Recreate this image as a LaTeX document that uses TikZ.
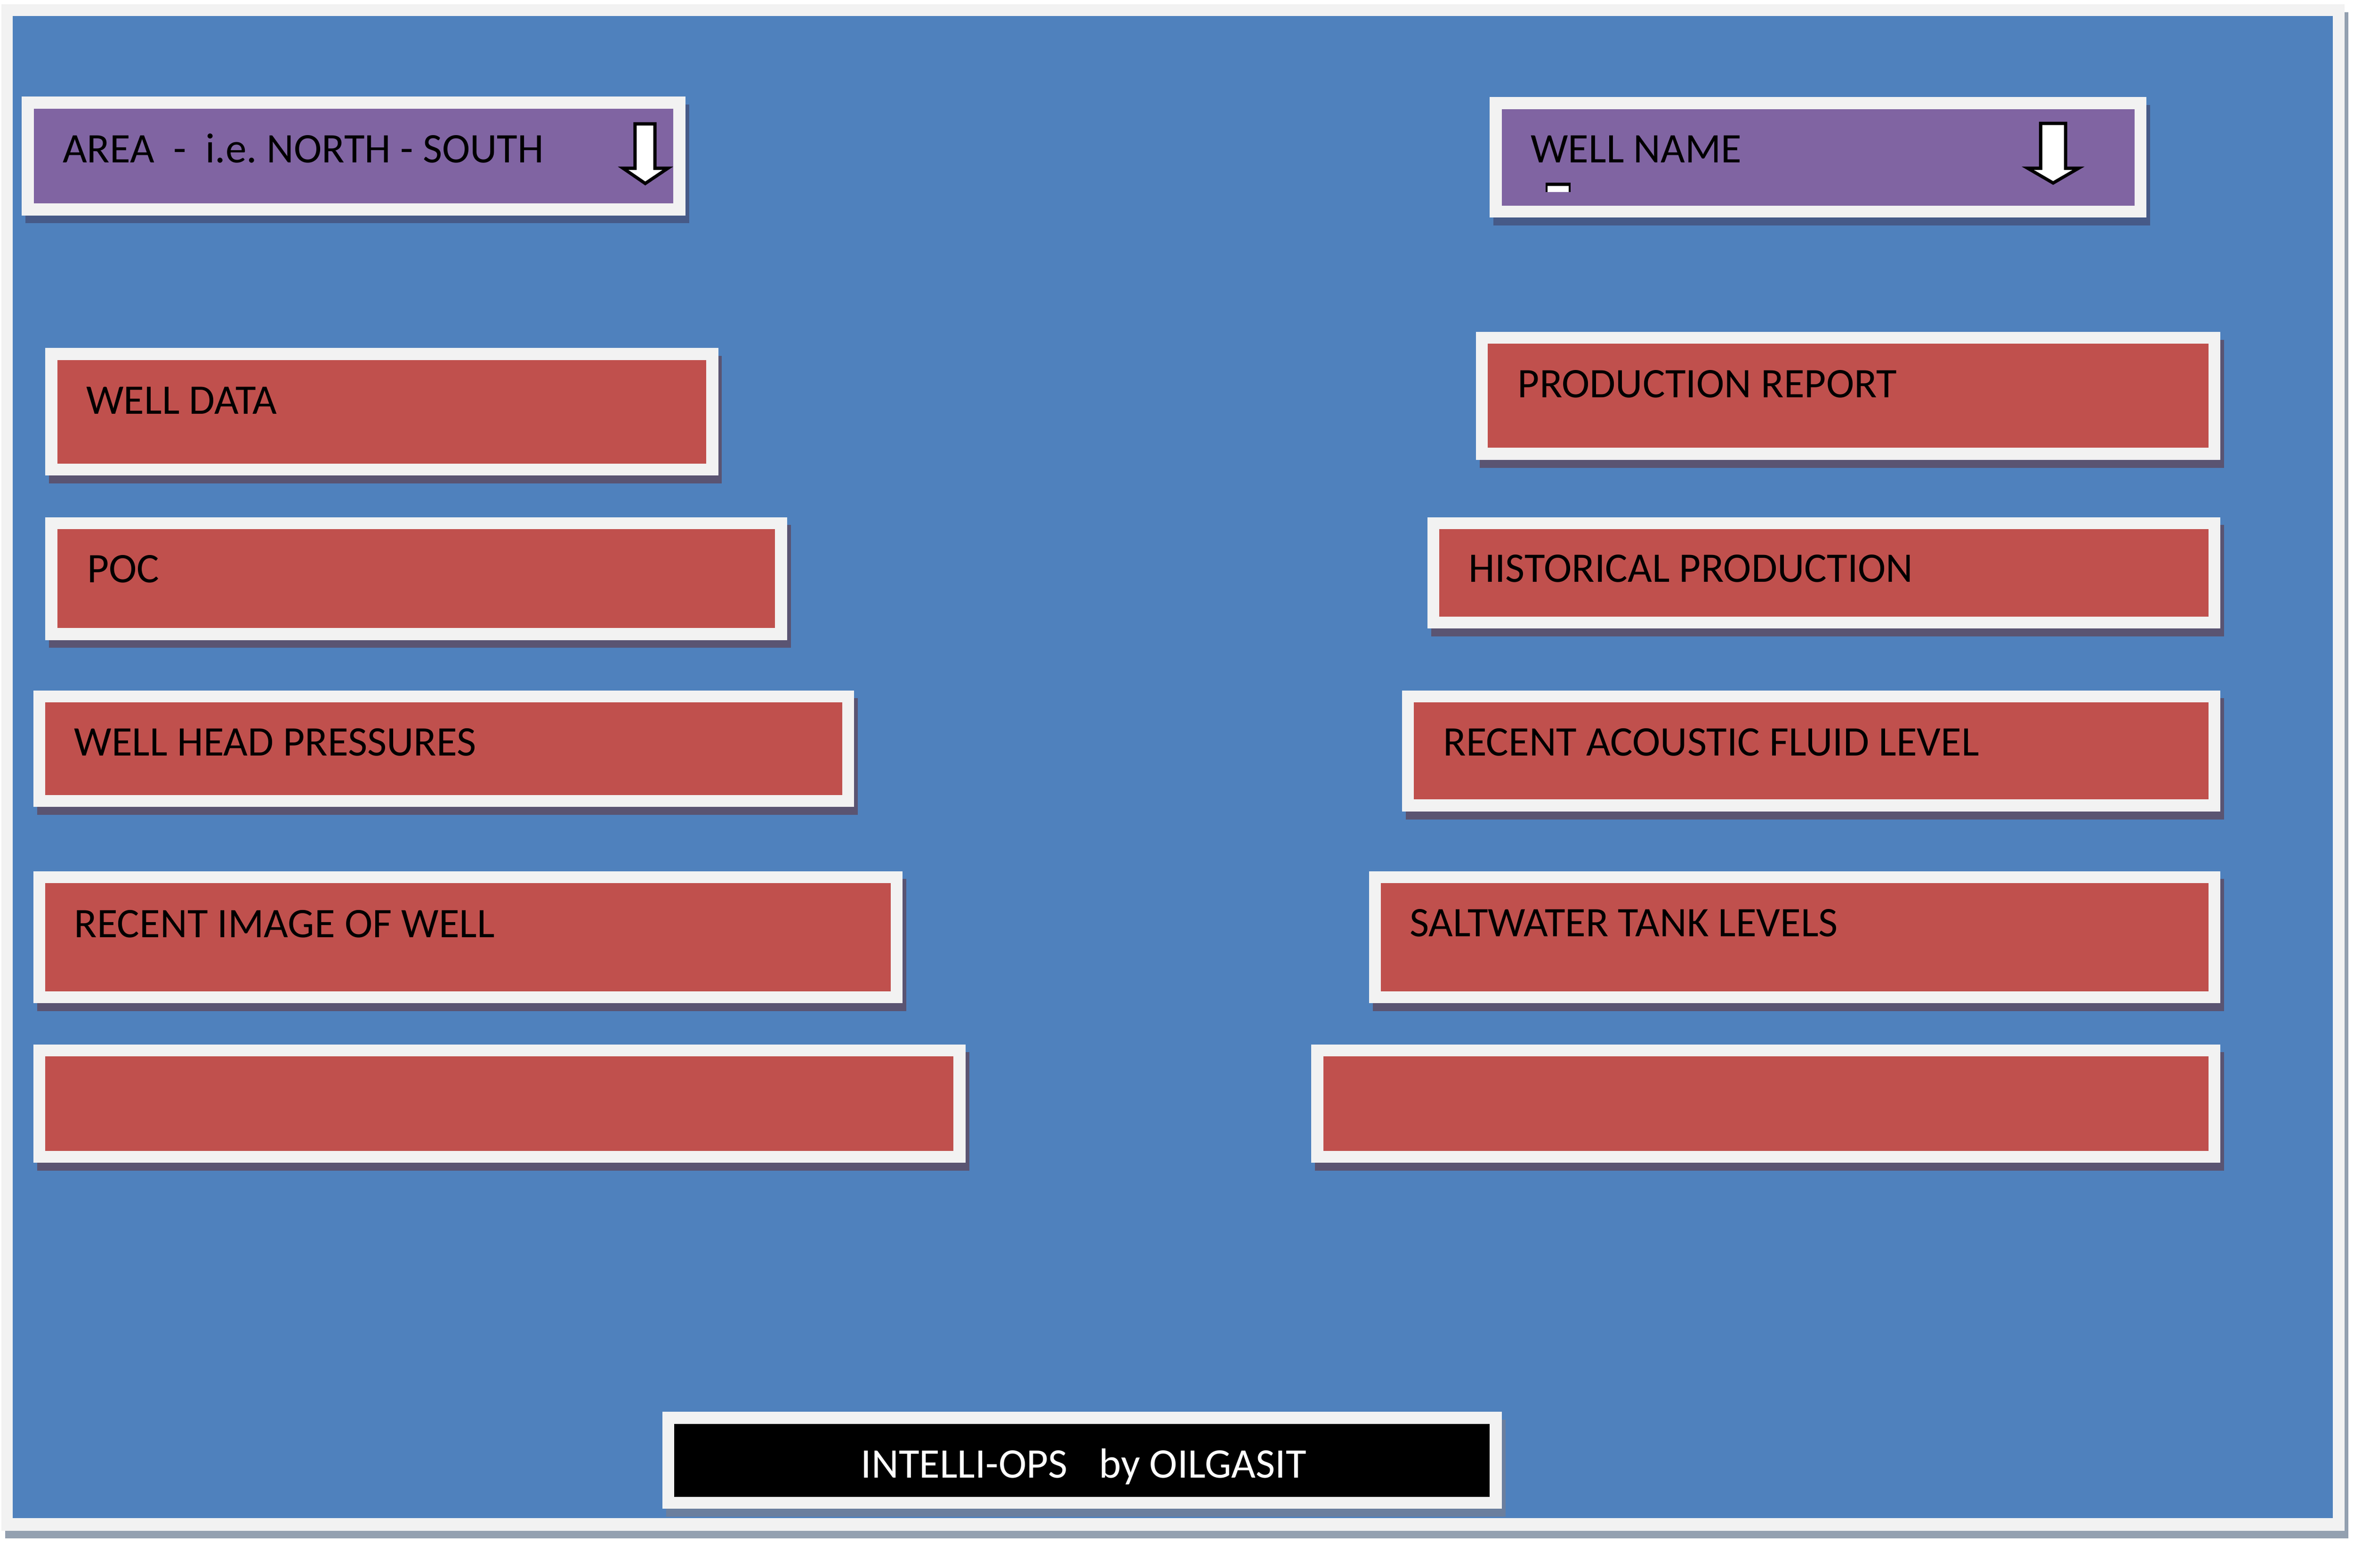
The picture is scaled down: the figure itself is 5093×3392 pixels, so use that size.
\documentclass[tikz,border=0pt]{standalone}
\usepackage{fontspec}
\setmainfont{Carlito}
\usetikzlibrary{fit}
\definecolor{bgblue}{HTML}{4F81BD}
\definecolor{boxpurple}{HTML}{8064A2}
\definecolor{boxred}{HTML}{C0504D}
\definecolor{framelight}{HTML}{F2F2F2}
\definecolor{shadowred}{HTML}{5A5472}
\definecolor{shadowblue}{HTML}{465A88}
\definecolor{shadowblack}{HTML}{6B7F9E}
\definecolor{shadowframe}{HTML}{93A0B0}
\newcommand\panelbox[7]{%
  \fill[#7, shift={(8,17)}] (#2,#3) rectangle (#4,#5);
  \fill[framelight] (#2,#3) rectangle (#4,#5);
  \path (#2,#3) ++(26,26) coordinate (#1-a);
  \path (#4,#5) ++(-26,-26) coordinate (#1-b);
  \node[fit=(#1-a)(#1-b), inner sep=0pt, fill=#6] (#1) {};
}
\tikzset{
  lbl/.style={font=\fontsize{25.9pt}{31pt}\selectfont, inner sep=0pt, anchor=base west, text=black},
  downarrow/.style={fill=white, draw=black, line width=0.07cm, line join=miter}
}
\frenchspacing
\begin{document}
\begin{tikzpicture}[x=0.01cm, y=-0.01cm]
\useasboundingbox (0,0) rectangle (5093,3392);
\fill[white] (0,0) rectangle (5093,3392);
% outer frame
\fill[shadowframe, shift={(8,17)}] (3,9) rectangle (5073,3312);
\fill[framelight] (3,9) rectangle (5073,3312);
\fill[bgblue] (28,35) rectangle (5047,3285);
% selector boxes
\panelbox{area}{47}{209}{1483}{466}{boxpurple}{shadowblue}
\panelbox{wellname}{3223}{210}{4644}{471}{boxpurple}{shadowblue}
% left column
\panelbox{welldata}{98}{753}{1554}{1029}{boxred}{shadowred}
\panelbox{poc}{98}{1119}{1703}{1385}{boxred}{shadowred}
\panelbox{whp}{72}{1494}{1848}{1746}{boxred}{shadowred}
\panelbox{riow}{72}{1885}{1953}{2171}{boxred}{shadowred}
\panelbox{blankl}{72}{2260}{2089}{2516}{boxred}{shadowred}
% right column
\panelbox{prodrep}{3193}{718}{4804}{995}{boxred}{shadowred}
\panelbox{histprod}{3088}{1119}{4804}{1360}{boxred}{shadowred}
\panelbox{rafl}{3033}{1494}{4804}{1756}{boxred}{shadowred}
\panelbox{swt}{2962}{1885}{4804}{2171}{boxred}{shadowred}
\panelbox{blankr}{2837}{2260}{4804}{2516}{boxred}{shadowred}
% footer
\panelbox{footer}{1433}{3055}{3249}{3265}{black}{shadowblack}
% texts
\node[lbl] (t-area) at (135,352) {AREA~~-~~i.e. NORTH - SOUTH};
\node[lbl] (t-wellname) at (3311,352) {WELL NAME};
\node[lbl] (t-welldata) at (186,896) {WELL DATA};
\node[lbl] (t-poc) at (188,1260) {POC};
\node[lbl] (t-whp) at (160,1635) {WELL HEAD PRESSURES};
\node[lbl] (t-riow) at (160,2028) {RECENT IMAGE OF WELL};
\node[lbl] (t-prodrep) at (3283,860) {PRODUCTION REPORT};
\node[lbl] (t-histprod) at (3177,1259) {HISTORICAL PRODUCTION};
\node[lbl] (t-rafl) at (3122,1635) {RECENT ACOUSTIC FLUID LEVEL};
\node[lbl] (t-swt) at (3049,2026) {SALTWATER TANK LEVELS};
\node[lbl, text=white] (t-footer) at (1862,3198) {INTELLI-OPS\hspace{0.75em}by OILGASIT};
% dropdown arrows
\draw[downarrow] (1374,268) -- (1417,268) -- (1417,364) -- (1445,364) -- (1396,397) -- (1348,364) -- (1374,364) -- cycle;
\draw[downarrow] (4415,267) -- (4469,267) -- (4469,364) -- (4497,364) -- (4442,396) -- (4387,364) -- (4415,364) -- cycle;
% small marker under WELL NAME
\fill[white] (3346,399) rectangle (3396,416);
\draw[black, line width=0.07cm] (3344,398.5) -- (3398,398.5);
\draw[black, line width=0.04cm] (3346,396) -- (3346,416) (3396,396) -- (3396,416);
\end{tikzpicture}
\end{document}
